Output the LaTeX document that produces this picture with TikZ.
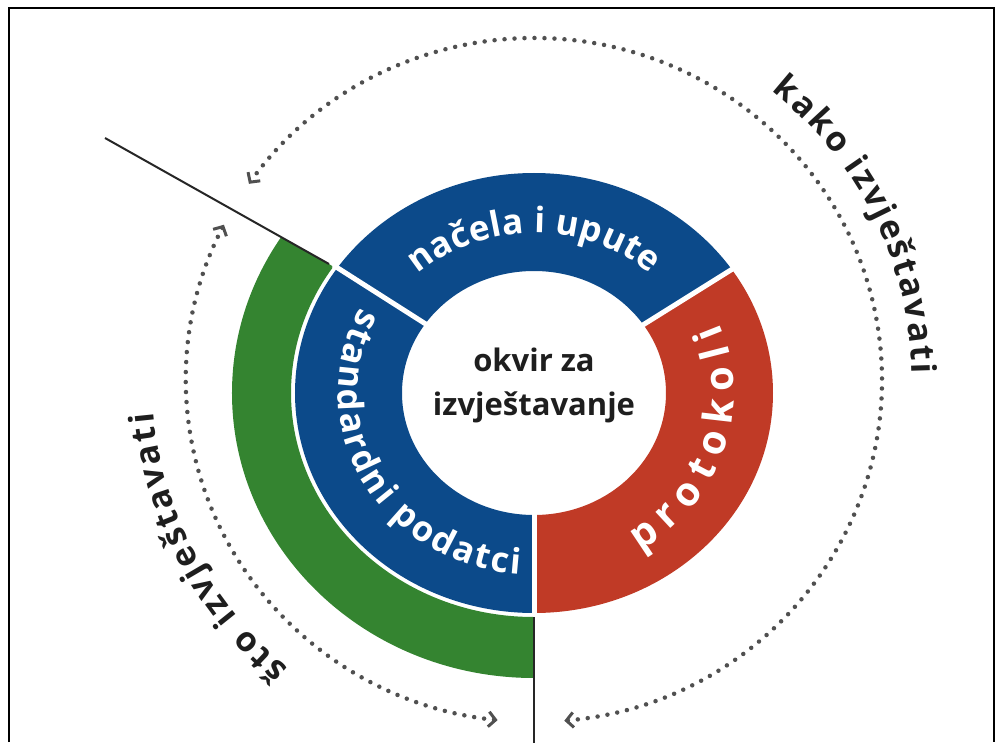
\documentclass[tikz,border=0pt]{standalone}
\usepackage{fontspec}
\setmainfont{Open Sans}
\usepackage{tikz}
\usetikzlibrary{arrows.meta,decorations.text,calc}
\definecolor{ringblue}{RGB}{12, 74, 138}
\definecolor{ringred}{RGB}{192, 58, 38}
\definecolor{ringgreen}{RGB}{52, 132, 48}
\definecolor{dotgray}{RGB}{80, 80, 80}
\definecolor{labelblack}{RGB}{30, 30, 30}
\newcommand{\ringfont}{\fontsize{35}{35}\selectfont\bfseries}
\newcommand{\bigringfont}{\fontsize{40}{40}\selectfont\bfseries}
\newcommand{\outerfont}{\fontsize{34}{34}\selectfont\bfseries}

\begin{document}
\begin{tikzpicture}[
    x=1pt, y=1pt,
    gap/.style={white, line width=5pt},
    cut/.style={black!85, line width=2pt},
    frame/.style={black, line width=2pt},
    dotline/.style={dotgray, line width=4.5pt, line cap=round, dash pattern=on 0pt off 10pt,
        {Straight Barb[length=7pt, width=15pt, line width=3pt]}-{Straight Barb[length=7pt, width=15pt, line width=3pt]}},
    ringtext/.style={decorate, decoration={text along path, text align=fit to path, text color=white}},
    outertext/.style={decorate, decoration={text along path, text align=fit to path, text color=labelblack}}
]
\useasboundingbox (-534,-349) rectangle (467,393);

% frame
\draw[frame] (-525,-349) -- (-525,385) -- (460,385) -- (460,-349);

% green ring (sto izvjestavati)
\coordinate (cutIn) at (-205,129);
\coordinate (cutOut) at (-429,255);
\begin{scope}
  \clip (0,0) -- (cutIn) -- (cutOut) -- (-700,0) -- (-500,-600) -- (0,-600) -- cycle;
  \fill[ringgreen, even odd rule] (0,0) ellipse[x radius=302, y radius=285] (0,0) ellipse[x radius=243, y radius=224];
\end{scope}

% inner ring segments
\begin{scope}
  \clip (0,0) -- (32:500) -- (90:700) -- (147.5:500) -- cycle;
  \fill[ringblue, even odd rule] (0,0) ellipse[x radius=239, y radius=220] (0,0) ellipse[x radius=132, y radius=122];
\end{scope}
\begin{scope}
  \clip (0,0) -- (147.5:500) -- (180:700) -- (270:500) -- cycle;
  \fill[ringblue, even odd rule] (0,0) ellipse[x radius=239, y radius=220] (0,0) ellipse[x radius=132, y radius=122];
\end{scope}
\begin{scope}
  \clip (0,0) -- (270:500) -- (0:700) -- (32:500) -- cycle;
  \fill[ringred, even odd rule] (0,0) ellipse[x radius=239, y radius=220] (0,0) ellipse[x radius=132, y radius=122];
\end{scope}

% white gaps
\draw[gap] (0,0) -- (32:260);
\draw[gap] (0,0) -- (147.5:238);
\draw[gap] (0,0) -- (0,-222);

% black cut lines
\coordinate (cutBottom) at (0,-224);
\coordinate (cutEnd) at (0,-360);
\draw[cut] (cutIn) -- (cutOut);
\draw[cut] (cutBottom) -- (cutEnd);

% centre
\node[align=center, font=\fontsize{31}{44}\selectfont\bfseries, text=labelblack] (okvir) at (0,8) {okvir za\\izvještavanje};

% ring labels
\coordinate (nacelaFrom) at (132:174 and 160);
\path[ringtext, decoration={text={|\ringfont|načela i upute}}]
  (nacelaFrom) arc[start angle=132, end angle=48, x radius=174, y radius=160];
\coordinate (podatciFrom) at (152:196 and 182);
\path[ringtext, decoration={text={|\ringfont|standardni podatci}}]
  (podatciFrom) arc[start angle=152, end angle=266, x radius=196, y radius=182];
\coordinate (protokoliFrom) at (-58:200 and 186);
\path[ringtext, decoration={text={|\bigringfont|protokoli}}]
  (protokoliFrom) arc[start angle=-58, end angle=22, x radius=200, y radius=186];

% dotted arrows
\coordinate (dotCentre) at (0,13);
\coordinate (kakoFrom) at ($(dotCentre)+(-85:348 and 342)$);
\draw[dotline] (kakoFrom) arc[start angle=-85, end angle=145, x radius=348, y radius=342];
\coordinate (stoFrom) at ($(dotCentre)+(153:348 and 342)$);
\draw[dotline] (stoFrom) arc[start angle=153, end angle=264, x radius=348, y radius=342];

% outer labels
\coordinate (kakoText) at ($(dotCentre)+(51:378 and 372)$);
\path[outertext, decoration={text={|\outerfont|kako izvještavati}}]
  (kakoText) arc[start angle=51, end angle=1, x radius=378, y radius=372];
\coordinate (stoText) at ($(dotCentre)+(230:382 and 376)$);
\path[outertext, decoration={text={|\outerfont|što izvještavati}}]
  (stoText) arc[start angle=230, end angle=185, x radius=382, y radius=376];

\end{tikzpicture}
\end{document}
